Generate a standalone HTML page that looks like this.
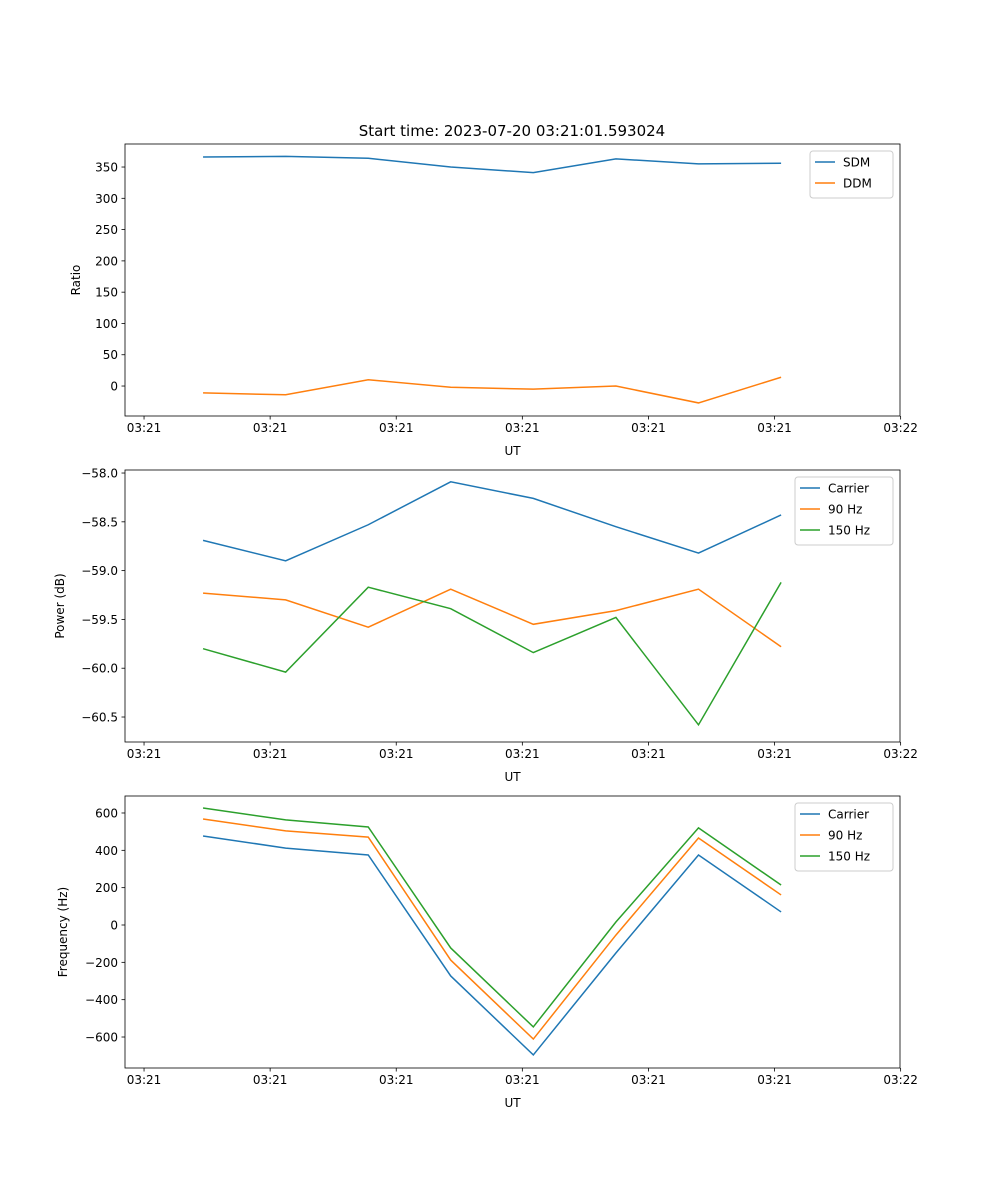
<!DOCTYPE html>
<html><head><meta charset="utf-8"><style>
html,body{margin:0;padding:0;background:#fff;}
svg{display:block;font-family:"DejaVu Sans","Liberation Sans",sans-serif;}
</style></head><body>
<svg id="fig" width="1000" height="1200" viewBox="0 0 1000 1200" xmlns="http://www.w3.org/2000/svg">
<rect width="1000" height="1200" fill="#fff"/>
<text x="512" y="136" font-size="15" text-anchor="middle">Start time: 2023-07-20 03:21:01.593024</text>
</svg>
<script>
// sample times (seconds relative to first tick)
const times = [0.468, 1.123, 1.778, 2.432, 3.087, 3.742, 4.397, 5.052];
const xTickValues = [0, 1, 2, 3, 4, 5, 6];
const xTickLabels = ["03:21","03:21","03:21","03:21","03:21","03:21","03:22"];
const sdm = [366, 367, 364, 350, 341, 363, 355, 356];
const ddm = [-11, -14, 10, -2, -5, 0, -27, 14];
const powerCarrier = [-58.69, -58.90, -58.53, -58.09, -58.26, -58.55, -58.82, -58.43];
const power90 = [-59.23, -59.30, -59.58, -59.19, -59.55, -59.41, -59.19, -59.78];
const power150 = [-59.80, -60.04, -59.17, -59.39, -59.84, -59.48, -60.58, -59.12];
const freqCarrier = [477, 412, 375, -273, -696, -150, 375, 70];
const freq90 = [568, 504, 471, -188, -611, -54, 466, 161];
const freq150 = [627, 563, 525, -123, -546, 16, 520, 214];
const ratioTicks = [0, 50, 100, 150, 200, 250, 300, 350];
const powerTicks = [-58.0, -58.5, -59.0, -59.5, -60.0, -60.5];
const freqTicks = [600, 400, 200, 0, -200, -400, -600];

const NS = "http://www.w3.org/2000/svg";
const svg = document.getElementById('fig');
const L = 125, R = 900;
const xMin = -0.151, xMax = 5.995;
function xs(v){ return L + (v - xMin) / (xMax - xMin) * (R - L); }
function mk(tag, attrs, parent){ const e = document.createElementNS(NS, tag); for (const k in attrs) e.setAttribute(k, attrs[k]); (parent||svg).appendChild(e); return e; }
const colors = ["#1f77b4", "#ff7f0e", "#2ca02c"];

function panel(id, top, bottom, yMin, yMax, yTicks, fmt, ylabel, series, names, legend){
  const g = mk('g', {});
  
  
  const ys = v => bottom - (v - yMin) / (yMax - yMin) * (bottom - top);
  series.forEach((s, si) => {
    const pts = s.map((v, i) => xs(times[i]).toFixed(2) + ',' + ys(v).toFixed(2)).join(' ');
    const pl = mk('polyline', {points: pts, fill: 'none', stroke: colors[si], 'stroke-width': 1.5}, g);
    
    
  });
  const fr = mk('rect', {x: L, y: top, width: R - L, height: bottom - top, fill: 'none', stroke: '#000', 'stroke-width': 0.8}, g);
  
  
  xTickValues.forEach((v, i) => {
    const x = xs(v);
    mk('line', {x1: x, x2: x, y1: bottom, y2: bottom + 3.5, stroke: '#000', 'stroke-width': 0.8}, g);
    const t = mk('text', {x: x, y: bottom + 16, 'font-size': 12, 'text-anchor': 'middle'}, g);
    
    
    t.textContent = xTickLabels[i];
  });
  yTicks.forEach(v => {
    const y = ys(v);
    mk('line', {x1: L - 3.5, x2: L, y1: y, y2: y, stroke: '#000', 'stroke-width': 0.8}, g);
    const t = mk('text', {x: L - 7, y: y + 4.5, 'font-size': 12, 'text-anchor': 'end'}, g);
    
    
    t.textContent = fmt(v);
  });
  const xl = mk('text', {x: (L + R) / 2, y: bottom + 39, 'font-size': 12, 'text-anchor': 'middle'}, g);
  
  
  xl.textContent = 'UT';
  const cy = (top + bottom) / 2;
  const yl = mk('text', {x: legend.ylx, y: cy, 'font-size': 12, 'text-anchor': 'middle', transform: 'rotate(-90 ' + legend.ylx + ' ' + cy + ')'}, g);
  
  
  yl.textContent = ylabel;
  const lg = mk('g', {}, g);
  
  
  const h = 5 + names.length * 21;
  mk('rect', {x: legend.x, y: top + 7, width: R - 7 - legend.x, height: h, rx: 3, fill: '#fff', 'fill-opacity': 0.8, stroke: '#ccc', 'stroke-width': 1}, lg);
  names.forEach((n, i) => {
    const y = top + 18 + i * 21;
    const e = mk('g', {}, lg);
    
    
    mk('line', {x1: legend.x + 5, x2: legend.x + 25, y1: y, y2: y, stroke: colors[i], 'stroke-width': 1.5}, e);
    const t = mk('text', {x: legend.x + 33, y: y + 4.5, 'font-size': 12}, e);
    t.textContent = n;
  });
}
panel('ratio', 144, 416, -47.9, 386.8, ratioTicks, v => String(v), 'Ratio', [sdm, ddm], ['SDM', 'DDM'], {x: 810, ylx: 80});
panel('power', 470, 742, -60.756, -57.969, powerTicks, v => '\u2212' + Math.abs(v).toFixed(1), 'Power (dB)', [powerCarrier, power90, power150], ['Carrier', '90 Hz', '150 Hz'], {x: 795, ylx: 64});
panel('freq', 796, 1068, -766, 691, freqTicks, v => v < 0 ? '\u2212' + Math.abs(v) : String(v), 'Frequency (Hz)', [freqCarrier, freq90, freq150], ['Carrier', '90 Hz', '150 Hz'], {x: 795, ylx: 67});
</script>
</body></html>
